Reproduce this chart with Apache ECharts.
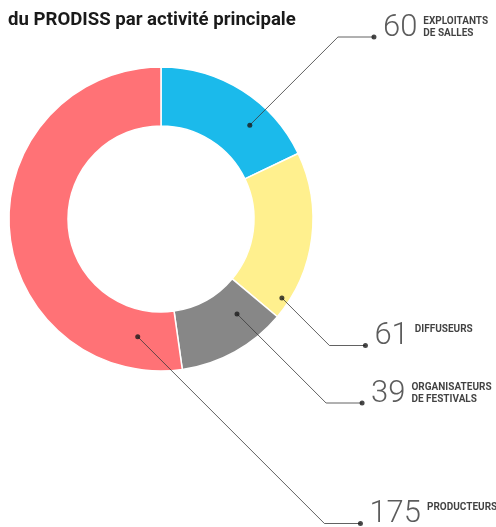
<!DOCTYPE html>
<html>
<head>
<meta charset="utf-8">
<script src="https://cdn.jsdelivr.net/npm/echarts@6/dist/echarts.min.js"></script>
<style>
html, body { margin: 0; padding: 0; background: #fff; }
#chart { width: 496px; height: 527px; }
</style>
</head>
<body>
<div id="chart"></div>
<script>
// data
var categories = ['EXPLOITANTS\nDE SALLES', 'DIFFUSEURS', 'ORGANISATEURS\nDE FESTIVALS', 'PRODUCTEURS'];
var counts = [60, 61, 39, 175];
var colors = ['#1bbaeb', '#fff08e', '#878787', '#ff7276'];

// layout of the ring and of the callouts
var cx = 161, cy = 219, rIn = 93, rOut = 152;
var anchorAt = [40.4, 114.6, 131.5, 177.9];   // where each leader leaves its slice, in count units
var anchorR = [0.85, 0.95, 0.80, 0.79];       // share of the outer radius
var rowY = [37, 345.5, 403, 523.5];
var tail = 36;

var numFont = "'Roboto', sans-serif";
var textFont = "'Roboto', sans-serif";

var total = counts.reduce(function (a, b) { return a + b; }, 0);

function ringPoint(v, f) {
    var a = v / total * 2 * Math.PI;
    var r = f * rOut;
    return [cx + r * Math.sin(a), cy - r * Math.cos(a)];
}

var measure = document.createElement('canvas').getContext('2d');
measure.font = '300 31px Roboto';

var leaders = [], startDots = [], endDots = [], numLabels = [], nameLabels = [];
counts.forEach(function (c, i) {
    var p0 = ringPoint(anchorAt[i], anchorR[i]);
    var corner = [p0[0] + Math.abs(rowY[i] - p0[1]), rowY[i]];
    var end = [corner[0] + tail, rowY[i]];
    leaders.push({ coords: [p0, corner, end] });
    startDots.push(p0);
    endDots.push(end);
    numLabels.push({ value: end, label: { formatter: String(c) } });
    var w = measure.measureText(String(c)).width;
    nameLabels.push({ value: end, label: { formatter: categories[i], distance: 9 + w + 6 } });
});

var chart = echarts.init(document.getElementById('chart'));
var option = {
    animation: false,
    backgroundColor: '#fff',
    title: {
        text: 'du PRODISS par activité principale',
        left: 8,
        top: 11,
        padding: 0,
        textStyle: {
            fontFamily: textFont,
            fontWeight: 'bold',
            fontSize: 18.6,
            color: '#1a1a1a'
        }
    },
    grid: { left: 0, right: 0, top: 0, bottom: 0 },
    xAxis: { type: 'value', min: 0, max: 496, show: false },
    yAxis: { type: 'value', min: 0, max: 527, inverse: true, show: false },
    series: [
        {
            type: 'pie',
            center: [cx, cy],
            radius: [rIn, rOut],
            startAngle: 90,
            clockwise: true,
            label: { show: false },
            labelLine: { show: false },
            emphasis: { disabled: true },
            itemStyle: { borderColor: '#fff', borderWidth: 1.5 },
            data: counts.map(function (c, i) {
                return { name: categories[i], value: c, itemStyle: { color: colors[i] } };
            })
        },
        {
            type: 'lines',
            coordinateSystem: 'cartesian2d',
            polyline: true,
            z: 5,
            silent: true,
            lineStyle: { color: '#3a3a3a', width: 0.8, opacity: 1 },
            data: leaders
        },
        {
            type: 'scatter',
            z: 6,
            silent: true,
            symbolSize: 5,
            itemStyle: { color: '#1a1a1a' },
            data: startDots.concat(endDots)
        },
        {
            type: 'scatter',
            z: 6,
            silent: true,
            symbolSize: 0,
            label: {
                show: true,
                position: 'right',
                distance: 9,
                offset: [0, -9],
                fontFamily: numFont,
                fontWeight: 300,
                fontSize: 31,
                color: '#333'
            },
            data: numLabels
        },
        {
            type: 'scatter',
            z: 6,
            silent: true,
            symbolSize: 0,
            label: {
                show: true,
                position: 'right',
                verticalAlign: 'top',
                offset: [0, -22],
                fontFamily: textFont,
                fontWeight: 'bold',
                fontSize: 10,
                lineHeight: 12,
                color: '#111'
            },
            data: nameLabels
        }
    ]
};
chart.setOption(option);
</script>
</body>
</html>
